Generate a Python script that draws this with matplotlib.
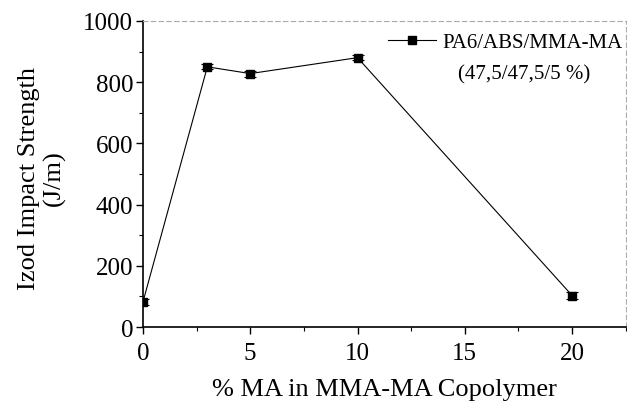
import matplotlib
matplotlib.use("Agg")
import matplotlib.pyplot as plt
from matplotlib.ticker import MultipleLocator
from matplotlib.lines import Line2D

ma_pct = [0, 3, 5, 10, 20]
impact = [82, 850, 828, 880, 103]
impact_err = [10, 8, 10, 8, 10]
series_label = "PA6/ABS/MMA-MA"
composition = "(47,5/47,5/5 %)"

plt.rcParams['font.family'] = ['Liberation Serif', 'DejaVu Serif']

fig = plt.figure(figsize=(6.27, 4.06), dpi=100)
ax = fig.add_axes([0.228, 0.192, 0.770, 0.754])

ax.errorbar(ma_pct, impact, yerr=impact_err, color='black', lw=0.8,
            marker='s', markersize=6, capsize=4, elinewidth=0.8,
            capthick=0.8)

ax.set_xlim(0, 22.5)
ax.set_ylim(0, 1000)
ax.xaxis.set_major_locator(MultipleLocator(5))
ax.xaxis.set_minor_locator(MultipleLocator(2.5))
ax.yaxis.set_major_locator(MultipleLocator(200))
ax.yaxis.set_minor_locator(MultipleLocator(100))
ax.tick_params(which='major', direction='out', length=5, width=1, labelsize=18)
ax.tick_params(axis='x', which='major', pad=6)
ax.tick_params(axis='y', which='major', pad=2)
ax.tick_params(which='minor', direction='out', length=3, width=0.8)

for s in ['top', 'right']:
    ax.spines[s].set_color('#aaaaaa')
    ax.spines[s].set_linestyle((0, (4, 3)))
    ax.spines[s].set_linewidth(0.8)
for s in ['left', 'bottom']:
    ax.spines[s].set_linewidth(1.2)

ax.set_xlabel("% MA in MMA-MA Copolymer", fontsize=19)
ax.xaxis.set_label_coords(0.501, -0.203)
ax.xaxis.label.set_va('center')
ax.set_ylabel("Izod Impact Strength\n(J/m)", fontsize=19, linespacing=1.15)
ax.yaxis.set_label_coords(-0.210, 0.49)
ax.yaxis.label.set_va('center')

handle = Line2D([], [], color='black', lw=0.8, marker='s', markersize=6)
ax.legend([handle], [series_label], loc='center', bbox_to_anchor=(0.75, 0.93),
          frameon=False, fontsize=15, handlelength=2.3, handletextpad=0.3,
          borderaxespad=0.0, borderpad=0.0)
ax.text(0.79, 0.827, composition, transform=ax.transAxes, fontsize=15,
        ha='center', va='center')

fig.savefig("out.png", dpi=100)
